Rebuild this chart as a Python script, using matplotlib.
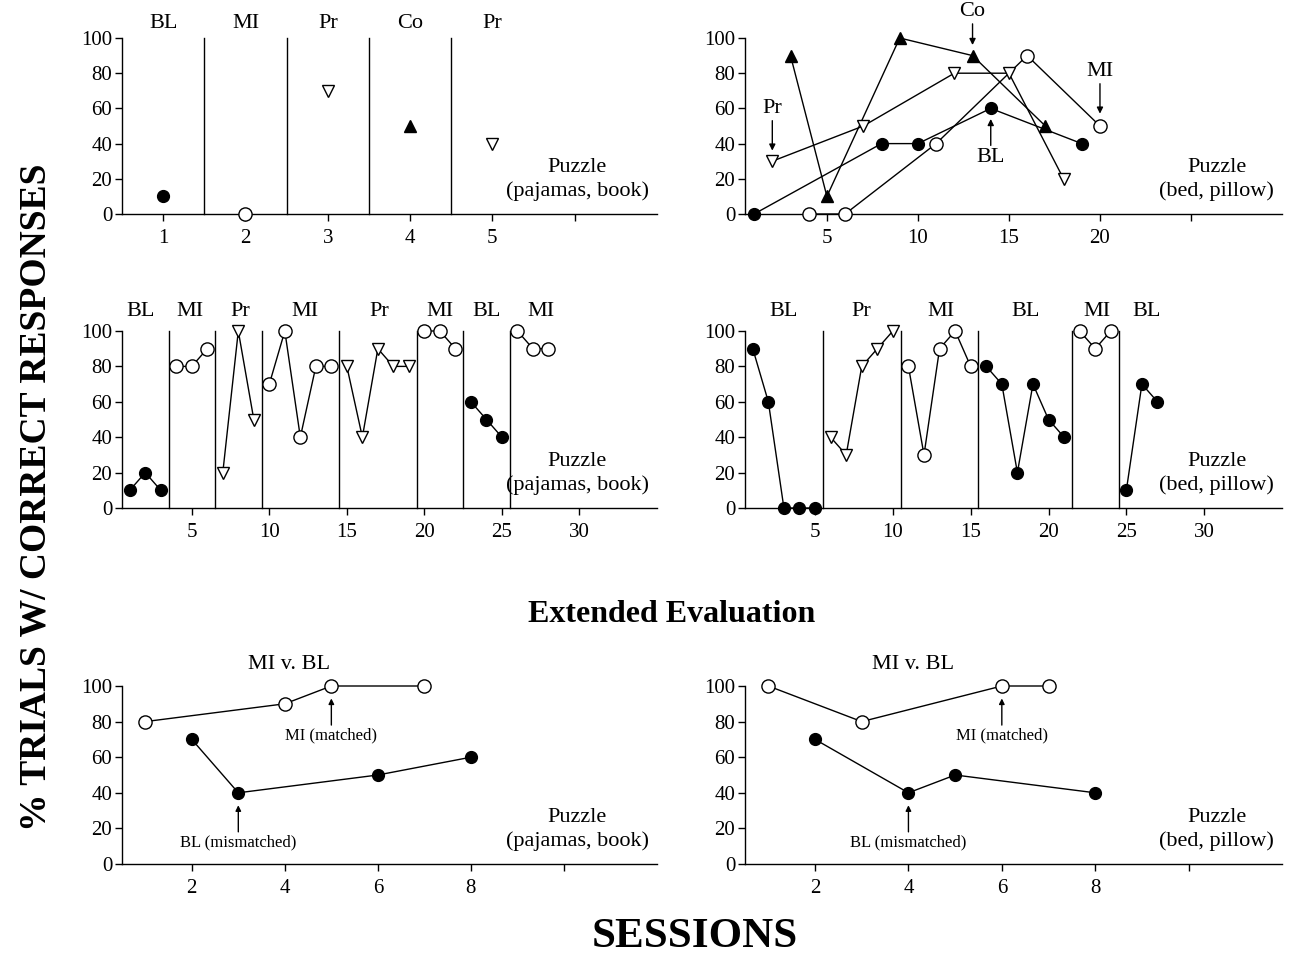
import matplotlib
matplotlib.use('Agg')
import matplotlib.pyplot as plt

plt.rcParams['font.family'] = ['Liberation Serif', 'DejaVu Serif']

# ---------------- data ----------------
# Top-left: Puzzle (pajamas, book), brief multielement
a_x = [1, 2, 3, 4, 5]
a_y = [10, 0, 70, 50, 40]
a_cond = ['BL', 'MI', 'Pr', 'Co', 'Pr']
a_lines = [1.5, 2.5, 3.5, 4.5]

# Top-right: Puzzle (bed, pillow), multielement
b_bl_x = [1, 8, 10, 14, 19]
b_bl_y = [0, 40, 40, 60, 40]
b_mi_x = [4, 6, 11, 16, 20]
b_mi_y = [0, 0, 40, 90, 50]
b_co_x = [3, 5, 9, 13, 17]
b_co_y = [90, 10, 100, 90, 50]
b_pr_x = [2, 7, 12, 15, 18]
b_pr_y = [30, 50, 80, 80, 20]

# Middle-left: reversal, Puzzle (pajamas, book)
c_x = [[1, 2, 3], [4, 5, 6], [7, 8, 9], [10, 11, 12, 13, 14],
       [15, 16, 17, 18, 19], [20, 21, 22], [23, 24, 25], [26, 27, 28]]
c_y = [[10, 20, 10], [80, 80, 90], [20, 100, 50], [70, 100, 40, 80, 80],
       [80, 40, 90, 80, 80], [100, 100, 90], [60, 50, 40], [100, 90, 90]]
c_cond = ['BL', 'MI', 'Pr', 'MI', 'Pr', 'MI', 'BL', 'MI']
c_lines = [3.5, 6.5, 9.5, 14.5, 19.5, 22.5, 25.5]
c_label_x = [1.7, 4.9, 8.1, 12.3, 17.1, 21.0, 24.0, 27.5]

# Middle-right: reversal, Puzzle (bed, pillow)
d_x = [[1, 2, 3, 4, 5], [6, 7, 8, 9, 10], [11, 12, 13, 14, 15],
       [16, 17, 18, 19, 20, 21], [22, 23, 24], [25, 26, 27]]
d_y = [[90, 60, 0, 0, 0], [40, 30, 80, 90, 100], [80, 30, 90, 100, 80],
       [80, 70, 20, 70, 50, 40], [100, 90, 100], [10, 70, 60]]
d_cond = ['BL', 'Pr', 'MI', 'BL', 'MI', 'BL']
d_lines = [5.5, 10.5, 15.5, 21.5, 24.5]
d_label_x = [3.0, 8.0, 13.1, 18.5, 23.1, 26.3]

# Bottom: extended evaluation
e_mi_x = [1, 4, 5, 7]
e_mi_y = [80, 90, 100, 100]
e_bl_x = [2, 3, 6, 8]
e_bl_y = [70, 40, 50, 60]
f_mi_x = [1, 3, 6, 7]
f_mi_y = [100, 80, 100, 100]
f_bl_x = [2, 4, 5, 8]
f_bl_y = [70, 40, 50, 40]

yticks = [0, 20, 40, 60, 80, 100]

# ---------------- styles ----------------
STY = {
    'BL': dict(marker='o', mfc='black', mec='black', ms=8.5),
    'MI': dict(marker='o', mfc='white', mec='black', ms=9.5),
    'Pr': dict(marker='v', mfc='white', mec='black', ms=9),
    'Co': dict(marker='^', mfc='black', mec='black', ms=8),
}
TICK_FS = 15
LAB_FS = 16

W, H = 1291, 973
fig = plt.figure(figsize=(W / 100, H / 100), dpi=100)


def make_ax(left_px, right_px, top_px, bottom_px):
    ax = fig.add_axes([left_px / W, 1 - bottom_px / H,
                       (right_px - left_px) / W, (bottom_px - top_px) / H])
    ax.spines['top'].set_visible(False)
    ax.spines['right'].set_visible(False)
    for s in ('left', 'bottom'):
        ax.spines[s].set_linewidth(1.0)
    ax.set_ylim(0, 100)
    ax.set_yticks(yticks)
    ax.tick_params(direction='out', length=5, width=1, labelsize=TICK_FS, pad=2)
    ax.tick_params(axis='x', pad=6)
    ax.patch.set_alpha(0)
    return ax


def series(ax, x, y, cond, line=True):
    st = STY[cond]
    ax.plot(x, y, color='black', lw=1.0, ls='-' if line else 'none',
            marker=st['marker'], mfc=st['mfc'], mec=st['mec'],
            ms=st['ms'], mew=1.0, clip_on=False, zorder=3)


def puzzle(ax, obj):
    ax.text(0.985, 0.075, 'Puzzle\n' + obj, transform=ax.transAxes,
            ha='right', va='bottom', ma='center', fontsize=LAB_FS,
            linespacing=1.25)


def phase_lines(ax, xs):
    for xv in xs:
        ax.plot([xv, xv], [0, 100], color='black', lw=1.0, clip_on=False)


LX, RX = (122, 657), (745, 1282)
ROW1, ROW2, ROW3 = (38, 214), (331, 508), (686, 864)

# ---- top-left ----
ax = make_ax(LX[0], LX[1], *ROW1)
ax.set_xlim(0.5, 7)
ax.set_xticks([1, 2, 3, 4, 5, 6])
ax.set_xticklabels(['1', '2', '3', '4', '5', ''])
phase_lines(ax, a_lines)
for xv, yv, cd in zip(a_x, a_y, a_cond):
    series(ax, [xv], [yv], cd, line=False)
    ax.text(xv, 108, cd, ha='center', va='center', fontsize=LAB_FS)
puzzle(ax, '(pajamas, book)')

# ---- top-right ----
ax = make_ax(RX[0], RX[1], *ROW1)
ax.set_xlim(0.5, 30)
ax.set_xticks([5, 10, 15, 20, 25])
ax.set_xticklabels(['5', '10', '15', '20', ''])
series(ax, b_bl_x, b_bl_y, 'BL')
series(ax, b_mi_x, b_mi_y, 'MI')
series(ax, b_co_x, b_co_y, 'Co')
series(ax, b_pr_x, b_pr_y, 'Pr')
arr = dict(arrowstyle='-|>', color='black', lw=1.0, mutation_scale=9,
           shrinkA=0, shrinkB=0)
ax.annotate('Pr', xy=(b_pr_x[0], 36), xytext=(b_pr_x[0], 60),
            ha='center', va='center', fontsize=LAB_FS, arrowprops=arr)
ax.annotate('Co', xy=(b_co_x[3], 96), xytext=(b_co_x[3], 115),
            ha='center', va='center', fontsize=LAB_FS, arrowprops=arr,
            annotation_clip=False)
ax.annotate('MI', xy=(b_mi_x[4], 57), xytext=(b_mi_x[4], 81),
            ha='center', va='center', fontsize=LAB_FS, arrowprops=arr)
ax.annotate('BL', xy=(b_bl_x[3], 54), xytext=(b_bl_x[3], 32),
            ha='center', va='center', fontsize=LAB_FS, arrowprops=arr)
puzzle(ax, '(bed, pillow)')

# ---- middle-left ----
ax = make_ax(LX[0], LX[1], *ROW2)
ax.set_xlim(0.5, 35)
ax.set_xticks([5, 10, 15, 20, 25, 30])
phase_lines(ax, c_lines)
for xs, ys, cd, lx in zip(c_x, c_y, c_cond, c_label_x):
    series(ax, xs, ys, cd)
    ax.text(lx, 111, cd, ha='center', va='center', fontsize=LAB_FS)
puzzle(ax, '(pajamas, book)')

# ---- middle-right ----
ax = make_ax(RX[0], RX[1], *ROW2)
ax.set_xlim(0.5, 35)
ax.set_xticks([5, 10, 15, 20, 25, 30])
phase_lines(ax, d_lines)
for xs, ys, cd, lx in zip(d_x, d_y, d_cond, d_label_x):
    series(ax, xs, ys, cd)
    ax.text(lx, 111, cd, ha='center', va='center', fontsize=LAB_FS)
puzzle(ax, '(bed, pillow)')

# ---- bottom ----
arr2 = dict(arrowstyle='-|>', color='black', lw=1.0, mutation_scale=8,
            shrinkA=0, shrinkB=0)
for (l, r), mx, my, bx, by, obj, mi_i, bl_i in [
        (LX, e_mi_x, e_mi_y, e_bl_x, e_bl_y, '(pajamas, book)', 2, 1),
        (RX, f_mi_x, f_mi_y, f_bl_x, f_bl_y, '(bed, pillow)', 2, 1)]:
    ax = make_ax(l, r, *ROW3)
    ax.set_xlim(0.5, 12)
    ax.set_xticks([2, 4, 6, 8, 10])
    ax.set_xticklabels(['2', '4', '6', '8', ''])
    series(ax, mx, my, 'MI')
    series(ax, bx, by, 'BL')
    ax.text(4.1, 112, 'MI v. BL', ha='center', va='center', fontsize=LAB_FS)
    ax.annotate('MI (matched)', xy=(mx[mi_i], 93), xytext=(mx[mi_i], 72),
                ha='center', va='center', fontsize=12, arrowprops=arr2)
    ax.annotate('BL (mismatched)', xy=(bx[bl_i], 33), xytext=(bx[bl_i], 12),
                ha='center', va='center', fontsize=12, arrowprops=arr2)
    puzzle(ax, obj)

fig.text(672 / W, 1 - 615 / H, 'Extended Evaluation', ha='center', va='center',
         fontsize=23, fontweight='bold')
fig.text(695 / W, 1 - 937 / H, 'SESSIONS', ha='center', va='center',
         fontsize=31, fontweight='bold')
fig.text(36 / W, 1 - 497 / H, '% TRIALS W/ CORRECT RESPONSES', ha='center',
         va='center', rotation=90, fontsize=27, fontweight='bold')

fig.savefig('out.png', dpi=100)
